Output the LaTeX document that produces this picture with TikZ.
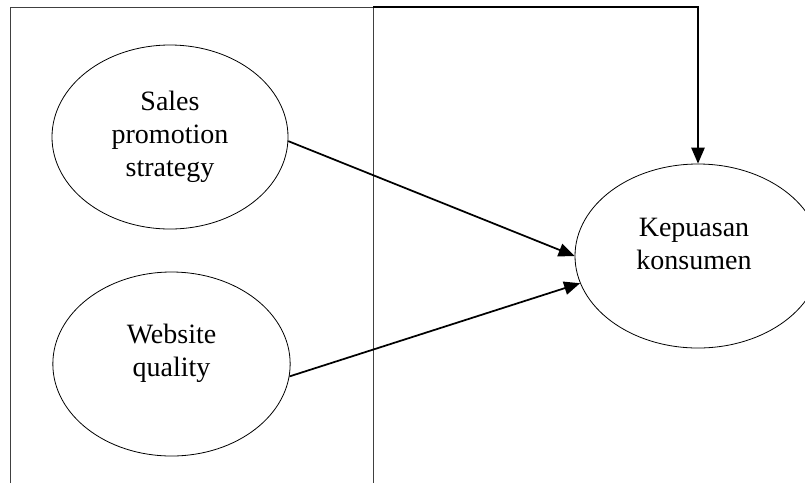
\documentclass[tikz,border=0pt]{standalone}
\usepackage{fontspec}
\setmainfont{Liberation Serif}
\usetikzlibrary{arrows.meta}
\usetikzlibrary{shapes.geometric}
\usepackage{xcolor}

\begin{document}
\begin{tikzpicture}[x=0.75pt, y=-0.75pt,
		var/.style={draw, ellipse, line width=0.6pt, inner sep=0pt},
		lbl/.style={align=center, inner sep=0pt, font=\fontsize{21}{24.8}\selectfont},
		conn/.style={line width=1.3pt, -{Triangle[length=12pt, width=10pt]}}]
			    		\useasboundingbox (0, 0) rectangle (805, 483);
			    		\draw[black!75, line width=0.6pt] (10, 483)--(10, 7)--(373, 7)--(373, 483);
			    		\coordinate (corner) at (373, 7);
						\node[var, minimum width=177pt, minimum height=138pt] (sps) at (170, 137) {};
						\node[var, minimum width=178pt, minimum height=138pt] (wq) at (171.5, 364) {};
						\node[var, minimum width=184.5pt, minimum height=138pt] (kk) at (698, 256) {};
						\node[lbl] (sps-t) at (170, 137) {Sales\\promotion\\strategy};
						\node[lbl] (wq-t) at (171.5, 353) {Website\\quality};
						\node[lbl] (kk-t) at (694, 244) {Kepuasan\\konsumen};
			    		\draw[conn] (sps.-2.5)--(kk.west);
			    		\draw[conn] (wq.-6)--(kk.193);
			    		\draw[conn] (corner)-|(kk.north);
			    	\end{tikzpicture}
\end{document}
